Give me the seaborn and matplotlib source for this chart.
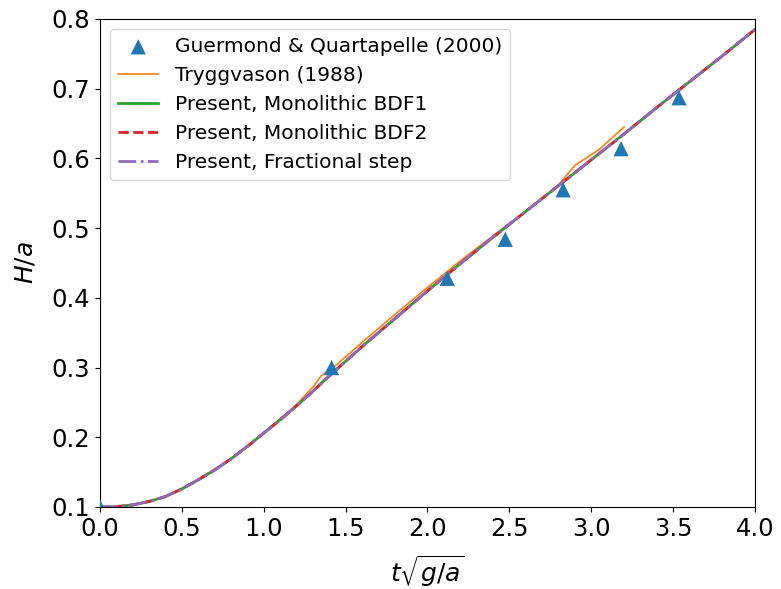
import matplotlib
matplotlib.use("Agg")
import matplotlib.pyplot as plt
import seaborn as sns

# Guermond & Quartapelle (2000)
gq_t = [0.0, 1.414, 2.121, 2.475, 2.828, 3.182, 3.536]
gq_h = [0.100, 0.300, 0.428, 0.484, 0.555, 0.614, 0.687]

# Tryggvason (1988)
tr_t = [0.0, 0.1, 0.2, 0.3, 0.45, 0.55, 0.65, 0.8, 1.0, 1.2, 1.3, 1.35, 1.45,
        1.6, 1.8, 2.0, 2.2, 2.4, 2.6, 2.8, 2.9, 3.05, 3.2]
tr_h = [0.100, 0.101, 0.103, 0.107, 0.120, 0.133, 0.147, 0.169, 0.206, 0.247,
        0.272, 0.288, 0.305, 0.336, 0.376, 0.415, 0.453, 0.489, 0.524, 0.562,
        0.590, 0.613, 0.645]

# Present results
pr_t = [0.0, 0.1, 0.2, 0.3, 0.4, 0.5, 0.6, 0.7, 0.8, 0.9, 1.0, 1.1, 1.2, 1.3,
        1.4, 1.5, 1.6, 1.8, 2.0, 2.2, 2.4, 2.6, 2.8, 3.0, 3.2, 3.4, 3.6, 3.8, 4.0]
bdf1_h = [0.100, 0.1005, 0.103, 0.108, 0.115, 0.126, 0.139, 0.153, 0.169, 0.187,
          0.206, 0.225, 0.245, 0.266, 0.288, 0.309, 0.330, 0.370, 0.410, 0.449,
          0.487, 0.524, 0.561, 0.598, 0.635, 0.673, 0.710, 0.747, 0.785]
bdf2_h = [0.100, 0.1005, 0.103, 0.108, 0.115, 0.126, 0.139, 0.153, 0.169, 0.187,
          0.206, 0.225, 0.245, 0.266, 0.288, 0.309, 0.330, 0.370, 0.410, 0.449,
          0.487, 0.524, 0.561, 0.598, 0.635, 0.673, 0.710, 0.747, 0.785]
frac_h = [0.100, 0.1005, 0.103, 0.108, 0.115, 0.126, 0.139, 0.153, 0.169, 0.187,
          0.206, 0.225, 0.245, 0.266, 0.288, 0.309, 0.330, 0.370, 0.410, 0.449,
          0.487, 0.524, 0.561, 0.598, 0.635, 0.673, 0.710, 0.747, 0.785]

labels = ["Guermond & Quartapelle (2000)", "Tryggvason (1988)",
          "Present, Monolithic BDF1", "Present, Monolithic BDF2",
          "Present, Fractional step"]

plt.rcParams['font.family'] = ['DejaVu Sans']
fig = plt.figure(figsize=(7.81, 5.89), dpi=100)
ax = fig.add_axes([100 / 781, 82 / 589, 655 / 781, 488 / 589])

sns.scatterplot(x=gq_t, y=gq_h, marker='^', s=120, color='#1f77b4',
                edgecolor='none', ax=ax, label=labels[0], zorder=3)
sns.lineplot(x=tr_t, y=tr_h, color='#ff7f0e', lw=1.2, ax=ax, sort=False,
             estimator=None, label=labels[1])
sns.lineplot(x=pr_t, y=bdf1_h, color='#2ca02c', lw=2.0, ax=ax, sort=False,
             estimator=None, label=labels[2])
sns.lineplot(x=pr_t, y=bdf2_h, color='#d62728', lw=2.0, ls='--', ax=ax,
             sort=False, estimator=None, label=labels[3])
sns.lineplot(x=pr_t, y=frac_h, color='#9467bd', lw=2.0, ls='-.', ax=ax,
             sort=False, estimator=None, label=labels[4])

ax.set_xlim(0, 4.0)
ax.set_ylim(0.1, 0.8)
ax.set_xticks([0.0, 0.5, 1.0, 1.5, 2.0, 2.5, 3.0, 3.5, 4.0])
ax.set_yticks([0.1, 0.2, 0.3, 0.4, 0.5, 0.6, 0.7, 0.8])
ax.tick_params(labelsize=17.5)
ax.set_xlabel(r'$t\sqrt{g/a}$', fontsize=18, labelpad=9)
ax.set_ylabel(r'$H/a$', fontsize=18, labelpad=10)
ax.legend(loc='upper left', fontsize=14.5)

fig.savefig('out.png', dpi=100)
